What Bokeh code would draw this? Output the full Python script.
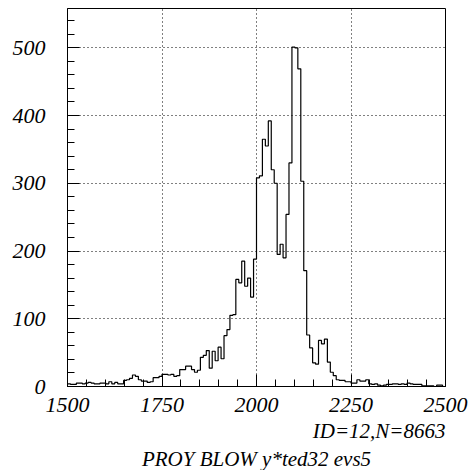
import numpy as np
from bokeh.plotting import figure
from bokeh.models import Range1d, FixedTicker, Title
from bokeh.embed import file_html
from bokeh.resources import INLINE

# Histogram: 128 bins from 1500 to 2500
x_min, x_max, n_bins = 1500, 2500, 128
counts = [4, 3, 3, 5, 5, 4, 5, 6, 5, 4, 4, 5, 5, 4, 7, 4, 6, 4, 4,
          9, 10, 12, 17, 15, 10, 8, 8, 6, 7, 13, 13,
          15, 18, 18, 17, 18, 15, 16, 25, 25, 30,
          30, 25, 21, 24, 43, 46, 53, 27, 52, 38, 58, 41, 75, 84, 105, 106,
          158, 153, 185, 148, 160, 132, 188,
          308, 311, 365, 355, 392, 320, 300, 195, 210, 190, 254, 330, 501, 500, 469, 303,
          171, 76, 57, 35, 33, 68, 63, 70, 36, 21, 16,
          10, 9, 9, 7, 7, 5, 5, 10, 8, 8, 10, 4, 3, 4, 2, 1, 2, 3, 3, 4, 4, 3, 4, 3, 5,
          4, 3, 3, 3, 1, 1, 1, 1, 0, 2, 2, 0]
x_ticks = [1500, 1750, 2000, 2250, 2500]
y_ticks = [0, 100, 200, 300, 400, 500]
info_line = "ID=12,N=8663"
title_line = "PROY BLOW y*ted32 evs5"

edges = np.linspace(x_min, x_max, n_bins + 1)
ys = list(counts) + [counts[-1]]

FONT = "Liberation Serif"

p = figure(width=470, height=470, output_backend="svg", toolbar_location=None,
           x_range=Range1d(x_min, x_max), y_range=Range1d(0, 558),
           min_border_left=67, min_border_right=25, min_border_top=8,
           min_border_bottom=0)
p.background_fill_color = "white"
p.border_fill_color = "white"
p.outline_line_color = "black"
p.outline_line_width = 1

p.step(edges, ys, mode="after", line_color="black", line_width=1.2)

for ax in (p.xaxis, p.yaxis):
    ax.axis_line_color = "black"
    ax.major_tick_line_color = "black"
    ax.minor_tick_line_color = "black"
    ax.major_tick_out = 0
    ax.major_tick_in = 12
    ax.minor_tick_out = 0
    ax.minor_tick_in = 7
    ax.major_label_text_font = FONT
    ax.major_label_text_font_style = "italic"
    ax.major_label_text_color = "black"

p.xaxis.ticker = FixedTicker(ticks=x_ticks,
                             minor_ticks=list(range(x_min, x_max + 1, 50)))
p.yaxis.ticker = FixedTicker(ticks=y_ticks, minor_ticks=list(range(0, 560, 20)))
p.xaxis.major_label_text_font_size = "22px"
p.yaxis.major_label_text_font_size = "22px"
p.xaxis.major_label_standoff = 11
p.yaxis.major_label_standoff = 22

p.xgrid.ticker = FixedTicker(ticks=x_ticks)
p.ygrid.ticker = FixedTicker(ticks=y_ticks)
for g in (p.xgrid, p.ygrid):
    g.grid_line_color = "black"
    g.grid_line_dash = "1 3"
    g.grid_line_width = 1

t1 = Title(text=info_line, align="right", text_font=FONT, text_font_style="italic",
           text_font_size="21px", text_color="black", standoff=4, offset=0)
t2 = Title(text=title_line, align="center", text_font=FONT, text_font_style="italic",
           text_font_size="21px", text_color="black", standoff=0, offset=0)
p.add_layout(t1, "below")
p.add_layout(t2, "below")

open("out.html", "w").write(file_html(p, INLINE))
